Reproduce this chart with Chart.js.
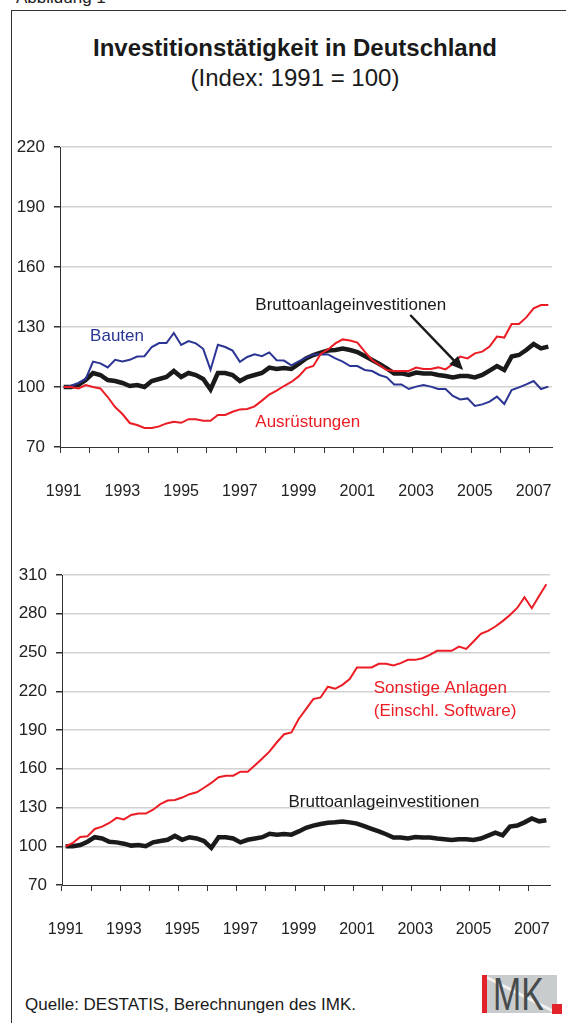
<!DOCTYPE html>
<html>
<head>
<meta charset="utf-8">
<script src="https://cdn.jsdelivr.net/npm/chart.js@4.4.1/dist/chart.umd.min.js"></script>
<style>
  body { margin: 0; background: #fff; font-family: "Liberation Sans", Arial, sans-serif; color: #222; }
  #page { position: relative; width: 566px; height: 1023px; overflow: hidden; }
  #frame { position: absolute; left: 11px; top: 10px; width: 600px; height: 1100px; border-left: 1px solid #333; border-top: 1px solid #333; }
  .txt { position: absolute; white-space: nowrap; }
  canvas { position: absolute; left: 0; }
</style>
</head>
<body>
<div id="page">
  <div class="txt" style="left:16px;top:-12px;font-size:17px;">Abbildung 1</div>
  <div id="frame"></div>
  <div class="txt" style="left:0;width:590px;top:34px;text-align:center;font-size:24px;font-weight:bold;color:#1a1a1a;">Investitionstätigkeit in Deutschland</div>
  <div class="txt" style="left:0;width:590px;top:64px;text-align:center;font-size:24px;color:#1a1a1a;">(Index: 1991 = 100)</div>
  <canvas id="top" width="566" height="400" style="top:120px"></canvas>
  <canvas id="bottom" width="566" height="410" style="top:555px"></canvas>
  <div class="txt" style="left:25px;top:995px;font-size:17px;color:#1a1a1a;">Quelle: DESTATIS, Berechnungen des IMK.</div>
  <div style="position:absolute;left:482px;top:975px;width:75px;height:38px;background:linear-gradient(to top right, rgba(0,0,0,0) 47%, #f4f4f4 49%, #f4f4f4 51%, rgba(0,0,0,0) 53%), #c9cccd;overflow:hidden;">
    <div style="position:absolute;left:0;top:0;width:5px;height:38px;background:#e2232a;"></div>
    <div style="position:absolute;left:11px;top:-6px;font-size:47px;line-height:50px;color:#474a4c;transform:scaleX(0.72);transform-origin:left top;">MK</div>
  </div>
  <div style="position:absolute;left:552px;top:1004px;width:10px;height:10px;background:#e2232a;"></div>
</div>
<script>
// quarterly data 1991Q1 .. 2007Q3, index 1991 = 100
const years = [1991, 1992, 1993, 1994, 1995, 1996, 1997, 1998, 1999, 2000, 2001, 2002, 2003, 2004, 2005, 2006, 2007];
const tickYears = ['1991', '1993', '1995', '1997', '1999', '2001', '2003', '2005', '2007'];

const brutto = [100, 100, 101, 103.5, 107, 106, 103.5, 103, 102, 100.5, 101, 100, 103, 104, 105, 108,
  105, 107, 106, 104, 98.8, 107, 107, 106, 103, 105, 106, 107, 109.7, 109, 109.5, 109,
  111.5, 114.3, 116, 117.2, 118.2, 118.5, 119.2, 118.5, 117.5, 115.5, 113.5, 111.5, 109.3, 106.8, 106.8, 106,
  107.2, 106.8, 106.8, 106, 105.5, 104.8, 105.5, 105.5, 104.8, 106, 108.2, 110.5, 108.5, 115.2, 116, 118.5,
  121.5, 119.3, 120.2];

const bauten = [100, 100.5, 102, 104, 112.7, 111.8, 109.8, 113.6, 112.8, 113.6, 115.2, 115.4, 120, 122, 122, 127,
  121, 123, 121.8, 119.1, 108.6, 121.1, 120, 118.2, 112.6, 115, 116.4, 115.4, 117.3, 113.4, 113.2, 110.8,
  112.8, 114.7, 116.3, 116.3, 116.3, 114.3, 112.7, 110.5, 110.5, 108.5, 108, 106, 104.8, 101.3, 101.3, 99,
  100.2, 101, 100.2, 99, 99, 95.5, 93.8, 94.3, 90.5, 91.3, 92.7, 95.2, 91.5, 98.5, 99.8, 101.3,
  103, 99, 100.2];

const ausruestungen = [100, 100, 99.3, 101, 100, 99.3, 95, 90, 86.5, 82, 81, 79.5, 79.5, 80.3, 81.8, 82.6,
  82.1, 83.9, 83.9, 83.1, 83.1, 86, 86, 87.6, 88.8, 89, 90.3, 93.2, 96.2, 98.2, 100.5, 102.5,
  105.3, 109.3, 110.5, 116.5, 118.8, 121.8, 123.8, 123.2, 122.2, 117.7, 113.5, 111, 108.5, 108, 108, 108,
  109.7, 109, 109, 109.8, 108.8, 111.5, 115.2, 114.3, 116.8, 117.7, 120.2, 125.2, 124.7, 131.5, 131.5, 134.8,
  139.3, 141, 141];

const sonstige = [100, 102.6, 107.2, 107.7, 113.4, 115.2, 118, 122, 120.8, 124.2, 125.3, 125.3, 128.3, 132.6, 135.4, 135.8,
  137.7, 140.3, 141.8, 145.3, 149, 153.5, 154.6, 154.6, 157.7, 157.7, 162.7, 167.9, 173.4, 180.5, 186.7, 188.1,
  198.5, 206.2, 213.9, 215.2, 223.5, 221.9, 225, 229.4, 238.4, 238.4, 238.4, 241.2, 241.2, 240, 241.8, 244.3,
  244.3, 245.6, 248.2, 251.3, 251.3, 251.3, 254.6, 252.8, 258.5, 264.4, 266.8, 270.1, 274.3, 279.1, 284.5, 292.8,
  284.3, 293.8, 302.8];

const quarters = [];
years.forEach(y => { for (let q = 1; q <= 4; q++) quarters.push(y + ' Q' + q); });
quarters.splice(brutto.length);

const RED = '#ec1c24';
const BLUE = '#2b3593';
const BLACK = '#1a1a1a';
const FONT = '"Liberation Sans", Arial, sans-serif';

Chart.defaults.font.family = FONT;
Chart.defaults.color = '#222';

// text labels and arrow, placed in data coordinates
const notes = {
    id: 'notes',
    afterDatasetsDraw(chart, args, opts) {
        const ctx = chart.ctx;
        const x = chart.scales.x;
        const y = chart.scales.y;
        ctx.save();
        ctx.font = '17px ' + FONT;
        ctx.textAlign = 'left';
        ctx.textBaseline = 'middle';
        (opts.labels || []).forEach(l => {
            ctx.fillStyle = l.color;
            ctx.fillText(l.text, x.getPixelForValue(l.at[0]), y.getPixelForValue(l.at[1]));
        });
        (opts.arrows || []).forEach(a => {
            const x1 = x.getPixelForValue(a.from[0]), y1 = y.getPixelForValue(a.from[1]);
            const x2 = x.getPixelForValue(a.to[0]), y2 = y.getPixelForValue(a.to[1]);
            const ang = Math.atan2(y2 - y1, x2 - x1);
            const head = 15;
            ctx.strokeStyle = BLACK;
            ctx.fillStyle = BLACK;
            ctx.lineWidth = 2.5;
            ctx.beginPath();
            ctx.moveTo(x1, y1);
            ctx.lineTo(x2 - head * 0.8 * Math.cos(ang), y2 - head * 0.8 * Math.sin(ang));
            ctx.stroke();
            ctx.beginPath();
            ctx.moveTo(x2, y2);
            ctx.lineTo(x2 - head * Math.cos(ang - 0.42), y2 - head * Math.sin(ang - 0.42));
            ctx.lineTo(x2 - head * Math.cos(ang + 0.42), y2 - head * Math.sin(ang + 0.42));
            ctx.closePath();
            ctx.fill();
        });
        ctx.restore();
    }
};

function line(data, color, width) {
    return {
        data: data,
        borderColor: color,
        borderWidth: width,
        pointRadius: 0,
        tension: 0,
        fill: false
    };
}

function makeOptions(min, max, pad, yWidth, xHeight, noteOpts) {
    return {
        responsive: false,
        animation: false,
        devicePixelRatio: 1,
        layout: { padding: pad },
        plugins: {
            legend: { display: false },
            tooltip: { enabled: false },
            notes: noteOpts
        },
        scales: {
            x: {
                offset: true,
                grid: {
                    offset: true,
                    drawOnChartArea: false,
                    tickLength: 6,
                    tickColor: ctx => ctx.index % 4 === 0 ? '#333' : 'rgba(0,0,0,0)'
                },
                border: { color: '#333', width: 1 },
                ticks: {
                    autoSkip: false,
                    maxRotation: 0,
                    padding: 29,
                    color: '#222',
                    font: { size: 16 },
                    callback: (v, i) => i % 8 === 0 ? tickYears[i / 8] : ''
                },
                afterFit: s => {
                    s.height = xHeight;
                    s.paddingLeft = 0;
                    s.paddingRight = 0;
                }
            },
            y: {
                min: min,
                max: max,
                grid: {
                    color: ctx => ctx.tick && ctx.tick.value === min ? 'rgba(0,0,0,0)' : '#d2d2d2',
                    lineWidth: 1.5,
                    tickColor: '#333',
                    tickLength: 6
                },
                border: { color: '#333', width: 1 },
                ticks: { stepSize: 30, padding: 9, color: '#222', font: { size: 17 } },
                afterFit: s => { s.width = yWidth; }
            }
        }
    };
}

new Chart(document.getElementById('top'), {
    type: 'line',
    data: {
        labels: quarters,
        datasets: [
            line(ausruestungen, RED, 2),
            line(bauten, BLUE, 2),
            line(brutto, BLACK, 4.5)
        ]
    },
    options: makeOptions(70, 220, { top: 27, right: 14, left: 0, bottom: 0 }, 60, 73, {
        labels: [
            { text: 'Bauten', at: [3.6, 125.5], color: BLUE },
            { text: 'Bruttoanlageinvestitionen', at: [26.1, 141], color: BLACK },
            { text: 'Ausrüstungen', at: [26.1, 82.5], color: RED }
        ],
        arrows: [{ from: [47.2, 136], to: [54.4, 108.5] }]
    }),
    plugins: [notes]
});

new Chart(document.getElementById('bottom'), {
    type: 'line',
    data: {
        labels: quarters,
        datasets: [
            line(sonstige, RED, 2),
            line(brutto, BLACK, 4.5)
        ]
    },
    options: makeOptions(70, 310, { top: 20, right: 16, left: 0, bottom: 0 }, 62, 80, {
        labels: [
            { text: 'Sonstige Anlagen', at: [42.3, 222], color: RED },
            { text: '(Einschl. Software)', at: [42.3, 204.2], color: RED },
            { text: 'Bruttoanlageinvestitionen', at: [30.6, 133.8], color: BLACK }
        ]
    }),
    plugins: [notes]
});
</script>
</body>
</html>
